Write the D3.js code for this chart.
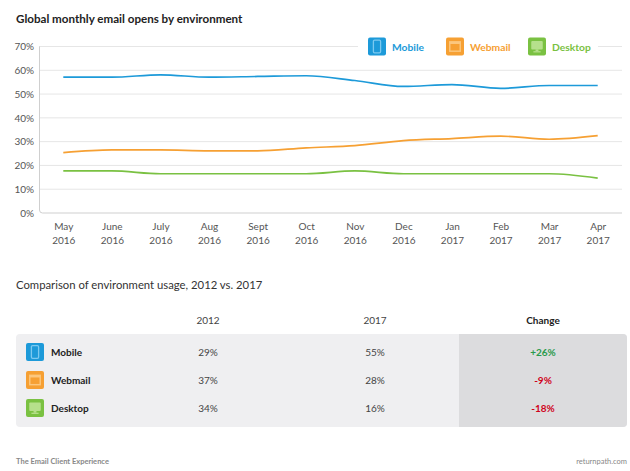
<!DOCTYPE html>
<html><head><meta charset="utf-8">
<script src="https://cdn.jsdelivr.net/npm/d3@7"></script>
<style>
html,body{margin:0;padding:0;background:#fff;}
svg{display:block;font-family:Lato,"Open Sans",sans-serif;}
</style></head>
<body><svg id="c" width="630" height="471"></svg>
<script>
const months = ["May 2016","June 2016","July 2016","Aug 2016","Sept 2016","Oct 2016","Nov 2016","Dec 2016","Jan 2017","Feb 2017","Mar 2017","Apr 2017"];
const mobile  = [57.1,57.1,58.1,57.1,57.4,57.7,55.7,53.2,54.0,52.4,53.6,53.6];
const webmail = [25.4,26.5,26.5,26.1,26.1,27.4,28.3,30.4,31.3,32.3,31.0,32.5];
const desktop = [17.7,17.7,16.5,16.5,16.5,16.5,17.7,16.5,16.5,16.5,16.5,14.7];
const yTicks = [0,10,20,30,40,50,60,70];
const envNames = ["Mobile","Webmail","Desktop"];
const envColors = ["#1d9ad9","#f6a033","#7ac142"];
const envLight = ["#7cc9f0","#fcc77e","#b6e08c"];
const tableCols = ["2012","2017","Change"];
const v2012 = ["29%","37%","34%"];
const v2017 = ["55%","28%","16%"];
const vChange = ["+26%","-9%","-18%"];

const svg = d3.select("#c");
const series = [mobile, webmail, desktop];

svg.append("text").attr("x",16).attr("y",23).attr("font-size",11.6).attr("font-weight",700)
  .attr("fill","#222").text("Global monthly email opens by environment");

const x = d3.scalePoint().domain(months).range([39,622]).padding(0.5);
const y = d3.scaleLinear().domain([0,70]).range([213,46.5]);

// gridlines
const grid = svg.append("g");
grid.selectAll("line").data(yTicks.filter(d=>d>0)).join("line")
  .attr("x1",39).attr("x2",622).attr("y1",d=>y(d)).attr("y2",d=>y(d))
  .attr("stroke","#e6e6e6").attr("stroke-width",1);
// axis frame (left + bottom with rounded corner)
svg.append("path").attr("d",`M39.5,${y(70)} L39.5,${y(0)-3} Q39.5,${y(0)} 42.5,${y(0)} L622,${y(0)}`)
  .attr("fill","none").attr("stroke","#cfcfcf").attr("stroke-width",1);

// y axis
const ya = svg.append("g").attr("transform","translate(36,0)")
  .call(d3.axisLeft(y).tickValues(yTicks).tickFormat(d=>d+"%").tickSize(0).tickPadding(2));
ya.select(".domain").remove();
ya.selectAll("text").attr("font-size",10).attr("fill","#555").attr("font-family","Lato,'Open Sans',sans-serif");

// x axis
const xa = svg.append("g").attr("transform",`translate(0,${y(0)})`)
  .call(d3.axisBottom(x).tickSize(0).tickPadding(0).tickFormat(""));
xa.select(".domain").remove();
xa.selectAll(".tick").each(function(d){
  const parts = d.split(" ");
  const t = d3.select(this).append("text").attr("fill","#555").attr("font-size",10)
    .attr("text-anchor","middle").attr("font-family","Lato,'Open Sans',sans-serif");
  t.append("tspan").attr("x",0).attr("y",17).text(parts[0]);
  t.append("tspan").attr("x",0).attr("y",31).text(parts[1]);
});

// lines
const line = d3.line().x((d,i)=>x(months[i])).y(d=>y(d)).curve(d3.curveMonotoneX);
svg.append("g").selectAll("path").data(series).join("path")
  .attr("d",d=>line(d)).attr("fill","none")
  .attr("stroke",(d,i)=>envColors[i]).attr("stroke-width",1.7);

// icons
function icon(g, i, s){
  g.append("rect").attr("width",s).attr("height",s).attr("rx",2).attr("fill",envColors[i]);
  const L = envLight[i];
  if(i===0){
    g.append("rect").attr("x",s*0.3).attr("y",s*0.15).attr("width",s*0.4).attr("height",s*0.7)
      .attr("rx",1.2).attr("fill","none").attr("stroke",L).attr("stroke-width",1.3);
  } else if(i===1){
    g.append("rect").attr("x",s*0.17).attr("y",s*0.2).attr("width",s*0.66).attr("height",s*0.6)
      .attr("fill",L);
    g.append("rect").attr("x",s*0.25).attr("y",s*0.36).attr("width",s*0.5).attr("height",s*0.36)
      .attr("fill",envColors[i]);
  } else {
    g.append("rect").attr("x",s*0.18).attr("y",s*0.2).attr("width",s*0.64).attr("height",s*0.46)
      .attr("rx",1).attr("fill",L);
    g.append("rect").attr("x",s*0.42).attr("y",s*0.66).attr("width",s*0.16).attr("height",s*0.1).attr("fill",L);
    g.append("rect").attr("x",s*0.3).attr("y",s*0.76).attr("width",s*0.4).attr("height",s*0.07).attr("fill",L);
  }
}

// legend with white background interrupting the top gridline
const legX = [368,446,528];
svg.append("rect").attr("x",358).attr("y",y(70)-10).attr("width",240).attr("height",20).attr("fill","#fff");
legX.forEach((lx,i)=>{
  const g = svg.append("g").attr("transform",`translate(${lx},${y(70)-9})`);
  icon(g,i,18);
  svg.append("text").attr("x",lx+24).attr("y",y(70)+4).attr("font-size",10.3).attr("font-weight",700)
    .attr("fill",envColors[i]).text(envNames[i]);
});

// table section
svg.append("text").attr("x",16).attr("y",289).attr("font-size",11.3).attr("fill","#333")
  .text("Comparison of environment usage, 2012 vs. 2017");

const colX = [208,375,543];
svg.append("g").selectAll("text").data(tableCols).join("text")
  .attr("x",(d,i)=>colX[i]).attr("y",324).attr("text-anchor","middle").attr("font-size",10)
  .attr("fill",(d,i)=>i===2?"#222":"#444").attr("font-weight",(d,i)=>i===2?700:400).text(d=>d);

const tx0=16, tx1=627, ty0=334, ty1=427, split=459;
svg.append("rect").attr("x",tx0).attr("y",ty0).attr("width",tx1-tx0).attr("height",ty1-ty0)
  .attr("rx",4).attr("fill","#efeff1");
svg.append("path").attr("d",`M${split},${ty0} L${tx1-4},${ty0} Q${tx1},${ty0} ${tx1},${ty0+4} L${tx1},${ty1-4} Q${tx1},${ty1} ${tx1-4},${ty1} L${split},${ty1} Z`)
  .attr("fill","#dcdcde");

const rowY = d3.scalePoint().domain(envNames).range([352,408]);
envNames.forEach((n,i)=>{
  const cy = rowY(n);
  const g = svg.append("g").attr("transform",`translate(26,${cy-9})`);
  icon(g,i,18);
  svg.append("text").attr("x",51).attr("y",cy+4).attr("font-size",10).attr("font-weight",700)
    .attr("fill","#222").text(n);
  svg.append("text").attr("x",colX[0]).attr("y",cy+4).attr("text-anchor","middle").attr("font-size",10)
    .attr("fill","#444").text(v2012[i]);
  svg.append("text").attr("x",colX[1]).attr("y",cy+4).attr("text-anchor","middle").attr("font-size",10)
    .attr("fill","#444").text(v2017[i]);
  svg.append("text").attr("x",colX[2]).attr("y",cy+4).attr("text-anchor","middle").attr("font-size",10)
    .attr("font-weight",700).attr("fill",vChange[i].startsWith("+")?"#2a9a4c":"#d0021b").text(vChange[i]);
});

// footer
svg.append("text").attr("x",16).attr("y",464).attr("font-size",7.5).attr("font-weight",700)
  .attr("fill","#888").text("The Email Client Experience");
svg.append("text").attr("x",627).attr("y",464).attr("text-anchor","end").attr("font-size",7.5)
  .attr("fill","#888").text("returnpath.com");
</script></body></html>
